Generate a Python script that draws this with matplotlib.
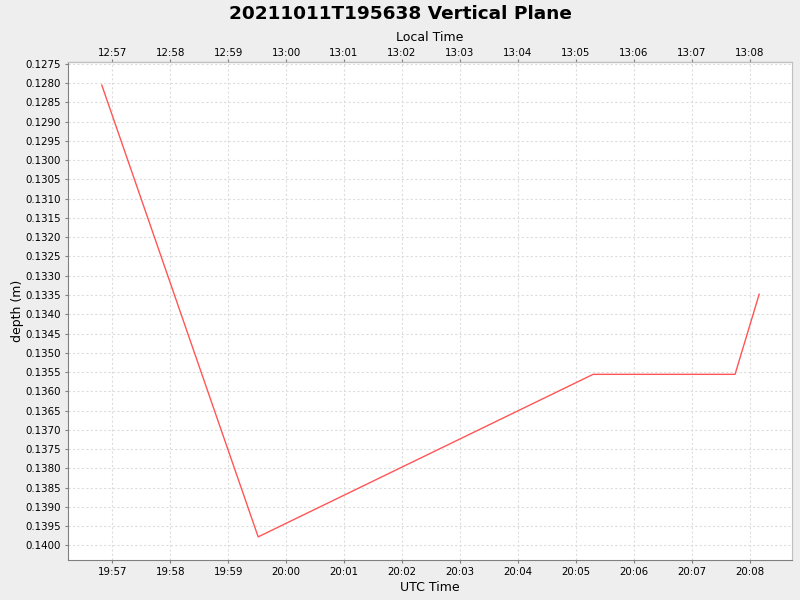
import numpy as np
import pandas as pd
import matplotlib
matplotlib.use('Agg')
import matplotlib.pyplot as plt
import matplotlib.dates as mdates
import matplotlib.ticker as mticker

# === data ===
utc_times = ['2021-10-11 19:56:49', '2021-10-11 19:59:31', '2021-10-11 20:05:18',
             '2021-10-11 20:07:45', '2021-10-11 20:08:10']
depth_m = [0.12805, 0.13978, 0.13556, 0.13556, 0.13348]
local_offset_hours = -7

times = mdates.date2num(pd.to_datetime(utc_times))
x_min = mdates.date2num(pd.Timestamp('2021-10-11 19:56:14'))
x_max = mdates.date2num(pd.Timestamp('2021-10-11 20:08:44'))

# === plot ===
fig = plt.figure(figsize=(8, 6), dpi=100, facecolor='#EEEEEE')
ax = fig.add_axes([0.085, 0.0667, 0.905, 0.83])
ax.set_facecolor('white')

ax.plot(times, depth_m, color='#FF5555', linewidth=1.0)

ax.set_xlim(x_min, x_max)
ax.set_ylim(0.14038, 0.12745)
ax.xaxis.set_major_locator(mdates.MinuteLocator())
ax.xaxis.set_major_formatter(mdates.DateFormatter('%H:%M'))
ax.yaxis.set_major_locator(mticker.MultipleLocator(0.0005))
ax.yaxis.set_major_formatter(mticker.FormatStrFormatter('%.4f'))

ax.grid(True, color='#DDDDDD', linestyle=(0, (2, 2)), linewidth=0.8)
for side in ['top', 'right']:
    ax.spines[side].set_color('#C0C0C0')
for side in ['bottom', 'left']:
    ax.spines[side].set_color('#808080')
ax.tick_params(axis='both', labelsize=7.4, length=2, color='#808080', pad=3)

off = local_offset_hours / 24.0
top = ax.secondary_xaxis('top', functions=(lambda x: x + off, lambda x: x - off))
top.xaxis.set_major_locator(mdates.MinuteLocator())
top.xaxis.set_major_formatter(mdates.DateFormatter('%H:%M'))
top.tick_params(labelsize=7.4, length=2, color='#808080', pad=1)
top.spines['top'].set_color('#808080')
top.set_xlabel('Local Time', fontsize=9, labelpad=5)

ax.set_xlabel('UTC Time', fontsize=9, labelpad=3)
ax.set_ylabel('depth (m)', fontsize=9, labelpad=1)
fig.suptitle('20211011T195638 Vertical Plane', fontsize=13.3, fontweight='bold', y=0.992)

fig.savefig('out.png', dpi=100, facecolor=fig.get_facecolor())
